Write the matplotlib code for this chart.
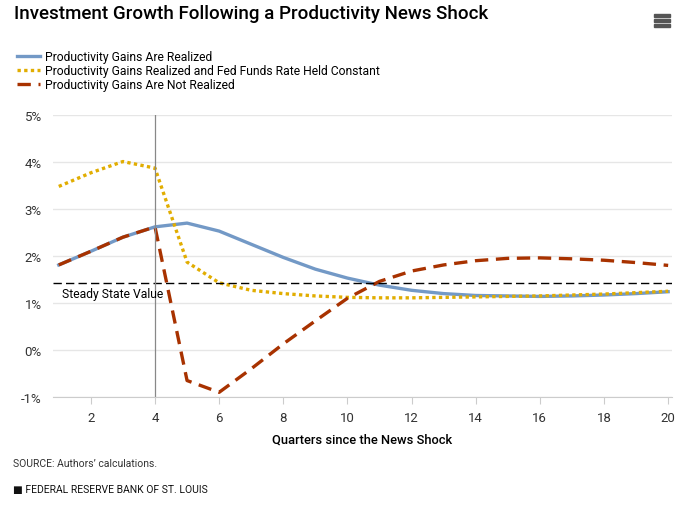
import matplotlib.pyplot as plt
from matplotlib.patches import Rectangle
import numpy as np

plt.rcParams['font.family'] = ['Roboto', 'DejaVu Sans']

quarters = np.arange(1, 21)
realized = [1.81, 2.10, 2.40, 2.62, 2.70, 2.53, 2.25, 1.97, 1.72, 1.53,
            1.38, 1.27, 1.20, 1.16, 1.15, 1.14, 1.15, 1.17, 1.20, 1.24]
fed_const = [3.48, 3.77, 4.01, 3.87, 1.87, 1.43, 1.27, 1.20, 1.15, 1.12,
             1.11, 1.11, 1.12, 1.13, 1.14, 1.15, 1.17, 1.19, 1.22, 1.25]
not_realized = [1.81, 2.10, 2.40, 2.62, -0.65, -0.90, -0.40, 0.13, 0.62, 1.10,
                1.46, 1.68, 1.81, 1.90, 1.95, 1.96, 1.94, 1.91, 1.86, 1.80]
steady_state = 1.43
shock_quarter = 4
y_ticks = [-1, 0, 1, 2, 3, 4, 5]
x_ticks = [2, 4, 6, 8, 10, 12, 14, 16, 18, 20]

fig = plt.figure(figsize=(6.86, 5.06), dpi=100)
ax = fig.add_axes([53/686, 1-398/506, (672-53)/686, (398-116)/506])

ax.plot(quarters, realized, color='#7399c6', lw=2.4, label='Productivity Gains Are Realized')
ax.plot(quarters, fed_const, color='#e1ad01', lw=2.4, ls=(0, (1, 1)),
        label='Productivity Gains Realized and Fed Funds Rate Held Constant')
ax.plot(quarters, not_realized, color='#a83200', lw=2.4, ls=(0, (4, 2.3)),
        label='Productivity Gains Are Not Realized')

ax.axhline(steady_state, color='black', lw=1, ls=(0, (6, 3)))
ax.text(1.1, steady_state - 0.08, 'Steady State Value', fontsize=8.7, va='top', ha='left')
ax.axvline(shock_quarter, color='#888888', lw=0.9)

ax.set_xlim(0.82, 20.12)
ax.set_ylim(-1, 5)
ax.set_yticks(y_ticks)
ax.set_yticklabels([f'{v}%' for v in y_ticks])
ax.set_xticks(x_ticks)
ax.grid(axis='y', color='#e6e6e6', lw=1)
ax.set_axisbelow(True)
for s in ['top', 'right', 'left']:
    ax.spines[s].set_visible(False)
ax.spines['bottom'].set_color('#cccccc')
ax.tick_params(axis='y', length=0, labelsize=9.5, labelcolor='#333333', pad=8)
ax.tick_params(axis='x', length=5, color='#cccccc', labelsize=9.5, labelcolor='#333333', pad=5)
ax.set_xlabel('Quarters since the News Shock', fontsize=9.3, fontweight='medium', labelpad=6)

fig.legend(loc='upper left', bbox_to_anchor=(17/686, 1-51/506), frameon=False,
           fontsize=8.7, handlelength=1.9, handletextpad=0.4, labelspacing=0.08,
           borderaxespad=0, borderpad=0)

fig.text(14/686, 1-14/506, 'Investment Growth Following a Productivity News Shock',
         fontsize=13.5, fontweight='medium', va='center', ha='left')
fig.text(13/686, 1-464/506, 'SOURCE: Authors\u2019 calculations.', fontsize=7.5,
         va='center', ha='left', color='#333333')
fig.text(13/686, 1-490/506, '\u25a0 FEDERAL RESERVE BANK OF ST. LOUIS', fontsize=7.5,
         va='center', ha='left', color='#111111')

# menu icon
for yy in [15, 20, 25]:
    fig.patches.append(Rectangle((654/686, 1-(yy+3)/506), 16/686, 3/506,
                                 transform=fig.transFigure, color='#555555'))

fig.savefig('out.png', dpi=100)
